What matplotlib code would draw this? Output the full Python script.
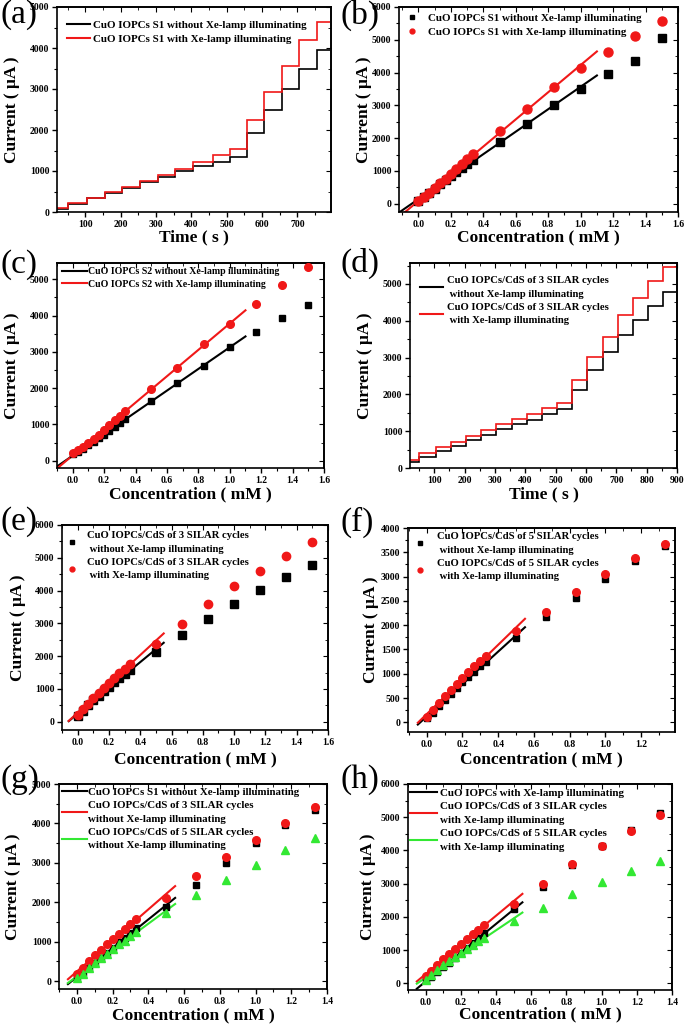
import numpy as np
import matplotlib
matplotlib.use('Agg')
import matplotlib.pyplot as plt
from matplotlib.ticker import MultipleLocator
from matplotlib.lines import Line2D

plt.rcParams['font.family'] = ['Liberation Serif', 'DejaVu Serif']
plt.rcParams['font.weight'] = 'bold'
plt.rcParams['axes.linewidth'] = 1.2

RED = '#f01818'
GREEN = '#33e833'

# --- (a) current-time steps, CuO IOPCs S1 ---
a_steps = [50, 105, 155, 205, 255, 305, 355, 405, 460, 510, 557, 605, 655, 705, 755]
a_edges = [20] + a_steps + [792]
a_dark = [80, 200, 330, 460, 590, 730, 850, 990, 1120, 1210, 1350, 1930, 2490, 3000, 3500, 3960]
a_light = [90, 210, 340, 480, 610, 760, 910, 1060, 1210, 1380, 1540, 2250, 2930, 3550, 4200, 4640]

# --- (d) current-time steps, CuO IOPCs/CdS 3 SILAR ---
d_steps = [50, 105, 155, 205, 255, 305, 355, 405, 455, 505, 555, 605, 655, 705, 755, 805, 855]
d_edges = [20] + d_steps + [898]
d_dark = [155, 300, 450, 605, 750, 885, 1055, 1200, 1310, 1470, 1600, 2125, 2650, 3165, 3615, 4020, 4410, 4790]
d_light = [225, 405, 570, 695, 860, 1040, 1200, 1330, 1475, 1625, 1765, 2395, 3010, 3555, 4160, 4610, 5080, 5470]

# concentrations (mM)
conc = [0, 0.0333, 0.0667, 0.1, 0.1333, 0.1667, 0.2, 0.2333, 0.2667, 0.3, 0.3333,
        0.5, 0.6667, 0.8333, 1.0, 1.1667, 1.3333, 1.5]

# (b) CuO IOPCs S1
b_dark = [100, 210, 330, 460, 590, 720, 850, 980, 1100, 1220, 1340,
          1880, 2440, 3000, 3500, 3950, 4350, 5060]
b_light = [90, 200, 340, 480, 620, 760, 910, 1060, 1200, 1370, 1510,
           2230, 2900, 3550, 4140, 4620, 5130, 5560]
# (c) CuO IOPCs S2
c_dark = [180, 250, 330, 430, 520, 630, 720, 830, 930, 1030, 1150,
          1650, 2150, 2620, 3125, 3540, 3930, 4300]
c_light = [210, 300, 390, 490, 600, 720, 850, 990, 1110, 1240, 1380,
           1975, 2555, 3215, 3770, 4320, 4850, 5350]
# (e) CuO IOPCs/CdS 3 SILAR cycles
e_dark = [170, 330, 500, 660, 790, 930, 1060, 1200, 1330, 1450, 1580,
          2120, 2655, 3140, 3590, 4010, 4420, 4770]
e_light = [220, 380, 550, 720, 880, 1040, 1190, 1350, 1490, 1620, 1760,
           2380, 2980, 3590, 4145, 4600, 5065, 5490]
# (f) CuO IOPCs/CdS 5 SILAR cycles (up to 1.333 mM)
f_dark = [90, 190, 330, 450, 580, 700, 820, 930, 1030, 1150, 1240,
          1725, 2175, 2560, 2940, 3320, 3625]
f_light = [100, 260, 400, 540, 660, 790, 910, 1040, 1150, 1260, 1360,
           1880, 2270, 2690, 3045, 3385, 3670]

W, H = 685, 1025
fig = plt.figure(figsize=(W / 100, H / 100), dpi=100)


def add_ax(l, r, t, b):
    return fig.add_axes([l / W, 1 - b / H, (r - l) / W, (b - t) / H])


def setup(ax, xlim, ylim, xmaj, ymaj, xlabel, ylx, xly):
    ax.set_xlim(*xlim)
    ax.set_ylim(*ylim)
    ax.xaxis.set_major_locator(MultipleLocator(xmaj))
    ax.xaxis.set_minor_locator(MultipleLocator(xmaj / 2))
    ax.yaxis.set_major_locator(MultipleLocator(ymaj))
    ax.yaxis.set_minor_locator(MultipleLocator(ymaj / 2))
    ax.tick_params(which='major', direction='out', length=3.5, width=1, labelsize=7, pad=2)
    ax.tick_params(which='minor', direction='out', length=2, width=0.8)
    for lab in ax.get_xticklabels() + ax.get_yticklabels():
        lab.set_fontweight('bold')
    # inward ticks on top and right spines
    sx = ax.secondary_xaxis('top')
    sx.xaxis.set_major_locator(MultipleLocator(xmaj))
    sx.xaxis.set_minor_locator(MultipleLocator(xmaj / 2))
    sx.tick_params(which='major', direction='in', length=3.5, labeltop=False)
    sx.tick_params(which='minor', direction='in', length=2)
    sy = ax.secondary_yaxis('right')
    sy.yaxis.set_major_locator(MultipleLocator(ymaj))
    sy.yaxis.set_minor_locator(MultipleLocator(ymaj / 2))
    sy.tick_params(which='major', direction='in', length=3.5, labelright=False)
    sy.tick_params(which='minor', direction='in', length=2)
    ax.set_xlabel(xlabel, fontsize=12.5, fontweight='bold')
    ax.set_ylabel('Current ( μA )', fontsize=12.5, fontweight='bold')
    ax.xaxis.label.set_va('center')
    ax.yaxis.label.set_va('center')
    ax.xaxis.set_label_coords(0.5, xly)
    ax.yaxis.set_label_coords(ylx, 0.5)


def fit_line(ax, x, y, xmax_fit, x0, x1, color):
    x = np.asarray(x)
    y = np.asarray(y)
    m = x <= xmax_fit
    k, b = np.polyfit(x[m], y[m], 1)
    xs = np.array([x0, x1])
    ax.plot(xs, k * xs + b, color=color, lw=1.5, zorder=2)


def legend_at(ax, handles, labels, fs, x_px, top_px, hlen_px, gap_px):
    fpx = fs * 100 / 72
    leg = ax.legend(handles, labels, loc='upper left',
                    bbox_to_anchor=(x_px / W, 1 - top_px / H), bbox_transform=fig.transFigure,
                    frameon=False, prop={'size': fs, 'weight': 'bold'},
                    handlelength=hlen_px / fpx, handletextpad=gap_px / fpx,
                    labelspacing=0.4, borderaxespad=0, borderpad=0)
    for t in leg.get_texts():
        t.set_linespacing(1.65)


def marker_handles(colors, markers):
    return [Line2D([], [], ls='none', marker=mk, color=c, markersize=3.5)
            for c, mk in zip(colors, markers)]


def line_handles(colors):
    return [Line2D([], [], color=c, lw=1.5) for c in colors]


ax_a = add_ax(57, 331, 7, 212)
ax_b = add_ax(399, 678, 7, 212)
ax_c = add_ax(57, 324, 263, 468)
ax_d = add_ax(410, 677, 263, 468)
ax_e = add_ax(62, 328, 525, 730)
ax_f = add_ax(408, 675, 528, 732)
ax_g = add_ax(59, 327, 784, 989)
ax_h = add_ax(408, 672, 784, 990)

# (a)
ax_a.stairs(a_dark, a_edges, baseline=None, color='black', lw=1.2)
ax_a.stairs(a_light, a_edges, baseline=None, color=RED, lw=1.2)
setup(ax_a, (20, 795), (0, 5000), 100, 1000, 'Time ( s )', -0.165, -0.122)
legend_at(ax_a, line_handles(['black', RED]),
          ['CuO IOPCs S1 without Xe-lamp illuminating',
           'CuO IOPCs S1 with Xe-lamp illuminating'], 7.9, 67, 20, 23, 3)

# (b)
fit_line(ax_b, conc, b_dark, 1.0, -0.12, 1.1, 'black')
fit_line(ax_b, conc, b_light, 1.0, -0.12, 1.1, RED)
ax_b.plot(conc, b_dark, 's', color='black', ms=5.5, zorder=3)
ax_b.plot(conc, b_light, 'o', color=RED, ms=6.5, zorder=3)
setup(ax_b, (-0.12, 1.6), (-250, 6000), 0.2, 1000, 'Concentration ( mM )', -0.125, -0.122)
legend_at(ax_b, marker_handles(['black', RED], ['s', 'o']),
          ['CuO IOPCs S1 without Xe-lamp illuminating',
           'CuO IOPCs S1 with Xe-lamp illuminating'], 7.9, 407, 13, 10, 11)

# (c)
fit_line(ax_c, conc, c_dark, 1.0, -0.1, 1.1, 'black')
fit_line(ax_c, conc, c_light, 1.0, -0.1, 1.1, RED)
ax_c.plot(conc, c_dark, 's', color='black', ms=5, zorder=3)
ax_c.plot(conc, c_light, 'o', color=RED, ms=5.5, zorder=3)
setup(ax_c, (-0.1, 1.6), (-200, 5450), 0.2, 1000, 'Concentration ( mM )', -0.17, -0.127)
legend_at(ax_c, line_handles(['black', RED]),
          ['CuO IOPCs S2 without Xe-lamp illuminating',
           'CuO IOPCs S2 with Xe-lamp illuminating'], 7.1, 62, 267, 25, 1)

# (d)
ax_d.stairs(d_dark, d_edges, baseline=None, color='black', lw=1.2)
ax_d.stairs(d_light, d_edges, baseline=None, color=RED, lw=1.2)
setup(ax_d, (20, 900), (0, 5570), 100, 1000, 'Time ( s )', -0.17, -0.127)
legend_at(ax_d, line_handles(['black', RED]),
          ['CuO IOPCs/CdS of 3 SILAR cycles\n without Xe-lamp illuminating',
           'CuO IOPCs/CdS of 3 SILAR cycles\n with Xe-lamp illuminating'],
          7.7, 420, 276, 23, 4)

# (e)
fit_line(ax_e, conc, e_dark, 0.5, -0.057, 0.55, 'black')
fit_line(ax_e, conc, e_light, 0.5, -0.057, 0.55, RED)
ax_e.plot(conc, e_dark, 's', color='black', ms=5.5, zorder=3)
ax_e.plot(conc, e_light, 'o', color=RED, ms=6, zorder=3)
setup(ax_e, (-0.1, 1.6), (-250, 6000), 0.2, 1000, 'Concentration ( mM )', -0.165, -0.141)
legend_at(ax_e, marker_handles(['black', RED], ['s', 'o']),
          ['CuO IOPCs/CdS of 3 SILAR cycles\n without Xe-lamp illuminating',
           'CuO IOPCs/CdS of 3 SILAR cycles\n with Xe-lamp illuminating'],
          7.7, 67, 531, 10, 10)

# (f)
fit_line(ax_f, conc[:17], f_dark, 0.5, -0.05, 0.55, 'black')
fit_line(ax_f, conc[:17], f_light, 0.5, -0.05, 0.55, RED)
ax_f.plot(conc[:17], f_dark, 's', color='black', ms=5, zorder=3)
ax_f.plot(conc[:17], f_light, 'o', color=RED, ms=5.5, zorder=3)
setup(ax_f, (-0.105, 1.39), (-200, 4000), 0.2, 500, 'Concentration ( mM )', -0.14, -0.132)
legend_at(ax_f, marker_handles(['black', RED], ['s', 'o']),
          ['CuO IOPCs/CdS of 5 SILAR cycles\n without Xe-lamp illuminating',
           'CuO IOPCs/CdS of 5 SILAR cycles\n with Xe-lamp illuminating'],
          7.7, 415, 532, 10, 12)

# (g) without Xe-lamp comparison
fit_line(ax_g, conc, b_dark, 0.5, -0.05, 0.55, 'black')
fit_line(ax_g, conc, e_dark, 0.5, -0.05, 0.55, RED)
fit_line(ax_g, conc[:17], f_dark, 0.5, -0.05, 0.55, GREEN)
ax_g.plot(conc[:17], b_dark[:17], 's', color='black', ms=5, zorder=3)
ax_g.plot(conc[:17], e_dark[:17], 'o', color=RED, ms=5.5, zorder=3)
ax_g.plot(conc[:17], f_dark, '^', color=GREEN, ms=5.5, zorder=3)
setup(ax_g, (-0.1, 1.4), (-200, 5000), 0.2, 1000, 'Concentration ( mM )', -0.17, -0.127)
legend_at(ax_g, line_handles(['black', RED, GREEN]),
          ['CuO IOPCs S1 without Xe-lamp illuminating',
           'CuO IOPCs/CdS of 3 SILAR cycles\nwithout Xe-lamp illuminating',
           'CuO IOPCs/CdS of 5 SILAR cycles\nwithout Xe-lamp illuminating'],
          7.85, 62, 787, 25, 1)

# (h) with Xe-lamp comparison
fit_line(ax_h, conc, b_light, 0.5, -0.05, 0.55, 'black')
fit_line(ax_h, conc, e_light, 0.5, -0.05, 0.55, RED)
fit_line(ax_h, conc[:17], f_light, 0.5, -0.05, 0.55, GREEN)
ax_h.plot(conc[:17], b_light[:17], 's', color='black', ms=5, zorder=3)
ax_h.plot(conc[:17], e_light[:17], 'o', color=RED, ms=5.5, zorder=3)
ax_h.plot(conc[:17], f_light, '^', color=GREEN, ms=5.5, zorder=3)
setup(ax_h, (-0.1, 1.4), (-200, 6000), 0.2, 1000, 'Concentration ( mM )', -0.15, -0.117)
legend_at(ax_h, line_handles(['black', RED, GREEN]),
          ['CuO IOPCs with Xe-lamp illuminating',
           'CuO IOPCs/CdS of 3 SILAR cycles\nwith Xe-lamp illuminating',
           'CuO IOPCs/CdS of 5 SILAR cycles\nwith Xe-lamp illuminating'],
          7.9, 410, 788, 27, 3)

# panel letters
letters = [('(a)', 0, 15), ('(b)', 340, 15), ('(c)', 0, 265), ('(d)', 340, 263),
           ('(e)', 0, 522), ('(f)', 340, 522), ('(g)', 0, 780), ('(h)', 340, 780)]
for txt, px, py in letters:
    fig.text(px / W, 1 - py / H, txt, fontsize=24, fontweight='normal',
             ha='left', va='center')

fig.savefig('out.png', dpi=100)
